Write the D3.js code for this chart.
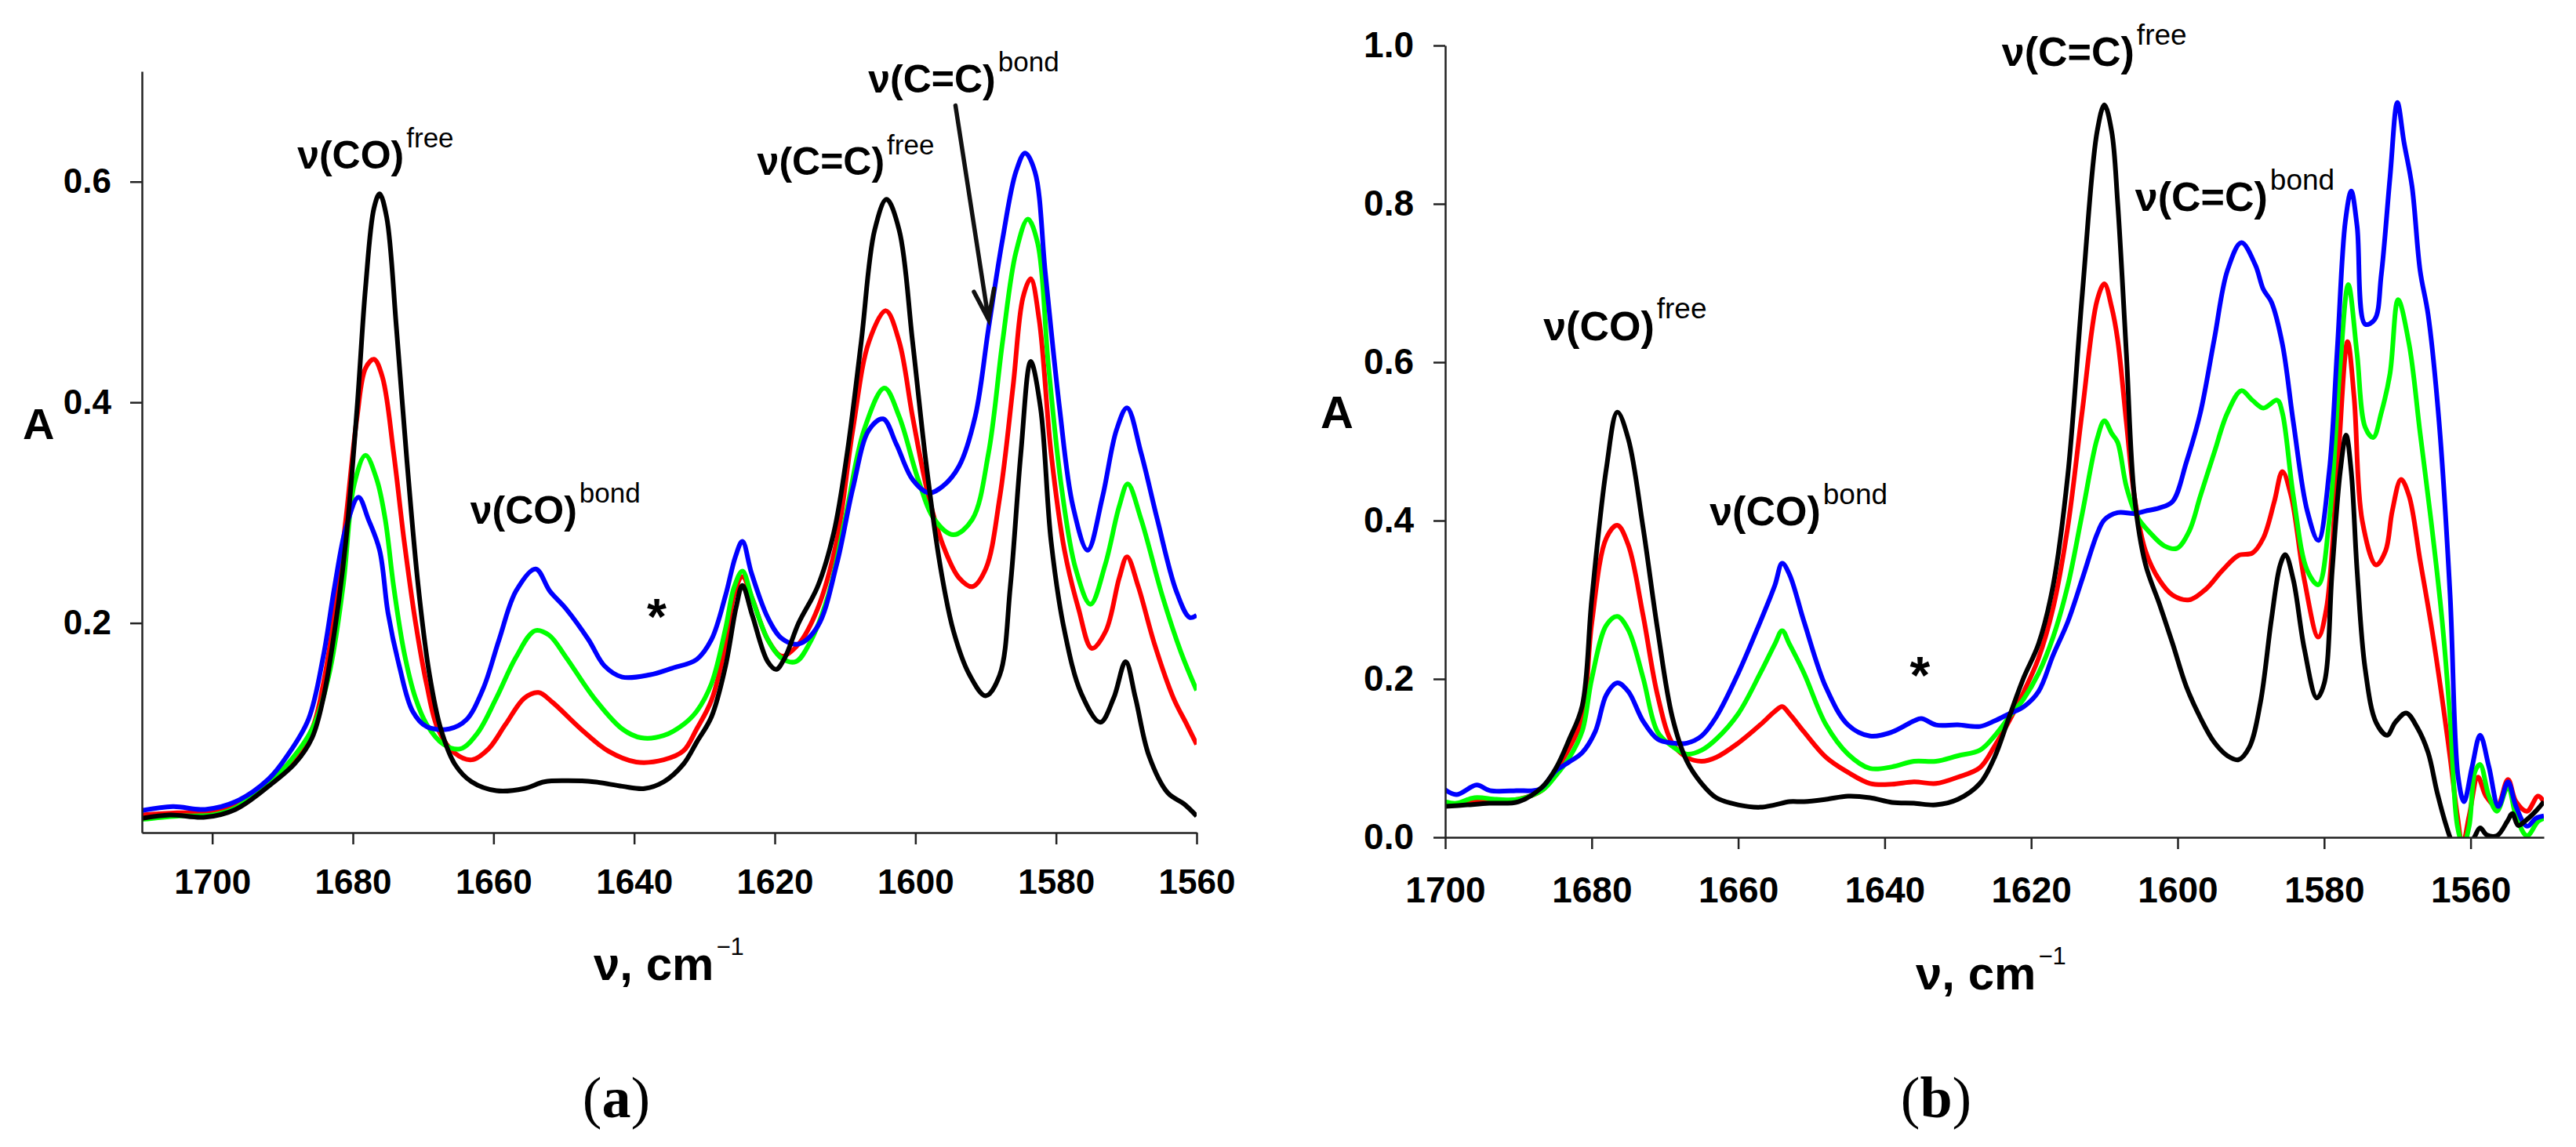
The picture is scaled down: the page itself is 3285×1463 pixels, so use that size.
<!DOCTYPE html>
<html>
<head>
<meta charset="utf-8">
<script src="https://cdn.jsdelivr.net/npm/d3@7"></script>
<style>
  body { margin: 0; background: #fff; }
</style>
</head>
<body>
<script>
var width = 3285, height = 1463;

// ---- panel (a): [wavenumber, absorbance] ----
var aBlack = [[1710,0.023],[1706,0.026],[1701,0.024],[1696.7,0.031],[1692,0.052],[1688.2,0.073],[1685.8,0.096],[1684.2,0.132],
  [1682.6,0.193],[1681,0.274],[1679.4,0.395],[1678.2,0.504],[1677,0.576],[1676.2,0.589],[1675.2,0.568],[1673.8,0.467],[1672.3,0.346],
  [1670.7,0.233],[1669.1,0.153],[1667.5,0.104],[1665.5,0.072],[1663.1,0.056],[1659.6,0.048],[1655.6,0.05],[1652.8,0.056],[1649.7,0.057],
  [1645.7,0.056],[1641.7,0.052],[1638.5,0.05],[1635.8,0.056],[1633,0.072],[1631.1,0.092],[1629,0.115],[1627,0.161],[1625.5,0.214],
  [1624.6,0.234],[1623.2,0.207],[1621,0.165],[1619.8,0.158],[1618.6,0.168],[1616.6,0.2],[1613.9,0.233],[1611.6,0.282],[1609.7,0.354],
  [1607.7,0.455],[1605.8,0.556],[1604.1,0.584],[1602.3,0.556],[1600.4,0.455],[1598.5,0.346],[1596.5,0.253],[1594.6,0.193],[1592.3,0.153],
  [1590,0.134],[1588,0.153],[1586.5,0.233],[1585,0.354],[1583.6,0.437],[1582.2,0.395],[1580.7,0.274],[1578.8,0.193],[1576.4,0.136],
  [1573.7,0.11],[1571.8,0.132],[1570.1,0.165],[1568.7,0.132],[1566.8,0.08],[1564.1,0.046],[1561.8,0.036],[1560,0.025]];
var aRed = [[1710,0.026],[1705,0.028],[1700,0.029],[1696.7,0.034],[1693.3,0.05],[1689.3,0.068],[1685.8,0.104],[1684.2,0.145],
  [1682.6,0.209],[1681,0.294],[1679.4,0.387],[1678.2,0.431],[1677,0.439],[1675.8,0.423],[1674.2,0.354],[1672.7,0.274],[1671.1,0.201],
  [1669.5,0.144],[1667.9,0.104],[1665.5,0.082],[1663.1,0.076],[1660.7,0.086],[1658.3,0.108],[1655.6,0.132],[1653.6,0.137],[1651.6,0.128],
  [1647.6,0.104],[1643.7,0.084],[1639.7,0.074],[1635.8,0.076],[1633,0.084],[1631.1,0.104],[1629,0.13],[1627,0.18],[1625.8,0.225],
  [1624.6,0.242],[1623.2,0.222],[1621,0.185],[1619,0.17],[1616.6,0.181],[1613.9,0.213],[1611.2,0.274],[1608.9,0.375],[1606.6,0.455],
  [1604.2,0.483],[1602.3,0.455],[1600.4,0.387],[1598.1,0.314],[1595.8,0.266],[1593.8,0.241],[1591.9,0.233],[1590,0.249],[1588,0.314],
  [1586.1,0.415],[1584.7,0.495],[1583.6,0.512],[1582.4,0.475],[1580.7,0.354],[1578.8,0.266],[1576.8,0.213],[1574.9,0.177],[1572.9,0.193],
  [1571,0.241],[1569.9,0.26],[1568.3,0.233],[1566,0.181],[1563.3,0.132],[1561.4,0.108],[1560,0.09]];
var aGreen = [[1710,0.022],[1705,0.025],[1700,0.026],[1696.7,0.0325],[1692,0.055],[1689.3,0.072],[1685.8,0.104],[1683.4,0.153],
  [1681.4,0.233],[1679.8,0.326],[1678.2,0.352],[1676.6,0.33],[1675.4,0.294],[1674.2,0.233],[1672.7,0.173],[1671.1,0.132],[1669.5,0.108],
  [1667.1,0.09],[1664.7,0.086],[1662.3,0.1],[1659.6,0.132],[1656.8,0.169],[1654.1,0.193],[1652.1,0.189],[1649.7,0.169],[1645.7,0.132],
  [1641.7,0.104],[1639,0.096],[1635.8,0.098],[1633,0.108],[1631.1,0.12],[1629,0.145],[1627,0.195],[1625.8,0.232],[1624.6,0.247],
  [1623.2,0.222],[1621,0.185],[1619,0.168],[1617,0.165],[1615.1,0.181],[1612.4,0.225],[1610,0.294],[1607.3,0.375],[1604.4,0.413],
  [1602.3,0.387],[1599.6,0.33],[1597.3,0.294],[1594.6,0.28],[1591.9,0.294],[1589.6,0.354],[1587.6,0.455],[1585.7,0.536],[1584,0.566],
  [1582.6,0.544],[1581.1,0.435],[1579.2,0.322],[1577.2,0.249],[1575.1,0.217],[1573,0.253],[1571,0.306],[1569.8,0.326],[1567.9,0.294],
  [1564.9,0.225],[1562.2,0.173],[1560,0.139]];
var aBlue = [[1710,0.030],[1705.6,0.0336],[1701,0.031],[1696.7,0.038],[1692,0.0585],[1689.3,0.08],[1686.3,0.113],[1684.2,0.17],
  [1682.6,0.233],[1681,0.286],[1679.2,0.314],[1677.8,0.294],[1676.2,0.266],[1675,0.209],[1673.4,0.161],[1671.5,0.12],[1669.5,0.106],
  [1666.3,0.104],[1663.9,0.112],[1661.5,0.14],[1659.2,0.185],[1656.8,0.229],[1654,0.249],[1652,0.229],[1649.7,0.213],[1646.5,0.185],
  [1644.2,0.161],[1641.7,0.151],[1637.8,0.153],[1634.6,0.159],[1631.1,0.167],[1629,0.185],[1627,0.225],[1625.6,0.26],[1624.6,0.274],
  [1623.3,0.245],[1621,0.205],[1619,0.186],[1616.6,0.181],[1613.9,0.197],[1611.2,0.253],[1608.9,0.322],[1606.6,0.375],[1604.6,0.385],
  [1602.7,0.362],[1600.4,0.33],[1598.1,0.318],[1596.1,0.324],[1593.8,0.342],[1591.5,0.387],[1589.6,0.467],[1587.6,0.548],[1585.7,0.609],
  [1584.4,0.626],[1583,0.609],[1581.5,0.516],[1579.5,0.395],[1577.6,0.306],[1575.5,0.266],[1573.4,0.314],[1571.4,0.375],[1569.9,0.395],
  [1567.9,0.354],[1565.6,0.294],[1562.9,0.229],[1561,0.205],[1560,0.207]];

// ---- panel (b) ----
var bBlack = [[1700,0.039],[1697,0.041],[1694,0.043],[1690,0.045],[1686.7,0.064],[1684.9,0.087],[1683.1,0.123],[1681.3,0.166],
  [1680,0.3],[1678,0.466],[1676.5,0.537],[1675,0.503],[1673,0.392],[1671,0.262],[1669,0.152],[1667,0.096],[1665,0.068],[1663,0.05],
  [1660,0.041],[1657,0.038],[1655,0.041],[1653,0.045],[1651,0.045],[1648,0.048],[1645,0.052],[1642,0.05],[1639,0.044],[1636,0.043],
  [1633,0.041],[1630,0.048],[1627,0.068],[1625,0.101],[1623,0.152],[1621,0.202],[1619,0.244],[1617,0.318],[1615,0.457],[1613,0.688],
  [1611,0.891],[1610,0.925],[1609,0.891],[1608.2,0.803],[1607,0.611],[1605.9,0.43],[1604.4,0.345],[1602.5,0.295],[1600.7,0.245],
  [1598.8,0.19],[1596.9,0.151],[1595,0.12],[1593.2,0.103],[1591.7,0.098],[1590.2,0.114],[1588.7,0.17],[1587.2,0.275],[1586,0.344],
  [1585.3,0.357],[1584.2,0.325],[1582.7,0.238],[1581,0.176],[1580,0.194],[1578.9,0.337],[1577.8,0.462],[1577,0.508],[1576.3,0.462],
  [1575.5,0.337],[1574.4,0.213],[1572.9,0.145],[1571.4,0.129],[1570.3,0.145],[1568.8,0.157],[1567.3,0.139],[1565.8,0.107],[1564.6,0.058],
  [1563.5,0.02],[1562.6,-0.005],[1561.7,-0.02],[1560.5,-0.015],[1559.5,0.0],[1558.7,0.012],[1557.8,0.003],[1556.4,0.002],[1555,0.02],
  [1554.3,0.03],[1553.5,0.015],[1552.5,0.021],[1551.1,0.033],[1550,0.045]];
var bRed = [[1700,0.04],[1697,0.044],[1693,0.046],[1690,0.048],[1686.7,0.06],[1684.9,0.084],[1683.1,0.112],[1681.3,0.15],[1680,0.27],
  [1678,0.378],[1676.5,0.394],[1675,0.369],[1673,0.281],[1671,0.179],[1669,0.119],[1667,0.101],[1665,0.096],[1663,0.101],[1660,0.119],
  [1657,0.142],[1655,0.159],[1654,0.165],[1653,0.156],[1651,0.133],[1648,0.101],[1645,0.082],[1642,0.068],[1639,0.067],[1636,0.07],
  [1633,0.068],[1630,0.076],[1627,0.088],[1625,0.115],[1623,0.147],[1621,0.184],[1619,0.226],[1617,0.29],[1615,0.392],[1613,0.54],
  [1611,0.678],[1610,0.699],[1609,0.669],[1608.2,0.629],[1607,0.524],[1605.9,0.43],[1604.4,0.362],[1602.5,0.325],[1600.7,0.306],
  [1598.4,0.3],[1596.2,0.313],[1593.9,0.337],[1591.7,0.356],[1589.8,0.359],[1588.3,0.378],[1586.8,0.424],[1585.7,0.462],[1584.5,0.431],
  [1582.7,0.325],[1580.8,0.253],[1579.7,0.288],[1578.2,0.462],[1576.8,0.626],[1575.9,0.555],[1574.8,0.4],[1572.9,0.344],[1571.6,0.362],
  [1570.7,0.412],[1569.5,0.452],[1568.4,0.431],[1566.9,0.35],[1565.4,0.269],[1563.9,0.176],[1562.8,0.101],[1561.8,0.027],[1561.1,-0.01],
  [1560.2,0.027],[1559,0.076],[1557.9,0.052],[1556.4,0.039],[1554.9,0.073],[1553.8,0.045],[1552.3,0.033],[1550.8,0.052],[1550,0.045]];
var bGreen = [[1700,0.045],[1698.5,0.043],[1696,0.05],[1693,0.048],[1690,0.048],[1686.7,0.06],[1684.9,0.078],[1683.1,0.1],[1681.3,0.134],
  [1680,0.2],[1678,0.268],[1676.5,0.279],[1675,0.262],[1673,0.202],[1671,0.133],[1669,0.115],[1667,0.105],[1665,0.11],[1663,0.124],
  [1660,0.156],[1657,0.207],[1655,0.244],[1654,0.261],[1653,0.244],[1651,0.207],[1648,0.142],[1645,0.105],[1642,0.087],[1639,0.089],
  [1636,0.096],[1633,0.096],[1630,0.103],[1627,0.11],[1625,0.128],[1623,0.152],[1621,0.175],[1619,0.207],[1617,0.253],[1615,0.318],
  [1613,0.41],[1611,0.503],[1610,0.526],[1609,0.51],[1608.2,0.499],[1607,0.443],[1605.6,0.406],[1603.7,0.384],[1601.8,0.368],
  [1600.1,0.365],[1598.4,0.387],[1596.9,0.431],[1595,0.486],[1593.2,0.536],[1591.3,0.564],[1589.8,0.552],[1588.3,0.542],[1586.4,0.552],
  [1585.7,0.536],[1584.2,0.431],[1582.3,0.337],[1580.8,0.319],[1579.3,0.4],[1577.8,0.598],[1576.7,0.698],[1575.5,0.61],[1574.4,0.518],
  [1573.3,0.505],[1572.2,0.536],[1571,0.586],[1569.9,0.679],[1568.4,0.623],[1566.9,0.511],[1565.4,0.4],[1563.9,0.275],[1562.8,0.151],
  [1561.8,0.014],[1561,-0.01],[1560.2,0.014],[1559.4,0.083],[1558.7,0.092],[1557.5,0.052],[1556.4,0.033],[1554.9,0.064],[1553.8,0.027],
  [1552.3,0.002],[1550.8,0.02],[1550,0.024]];
var bBlue = [[1700.3,0.062],[1698.5,0.054],[1695.7,0.066],[1693.9,0.059],[1690.3,0.059],[1687.1,0.061],[1684.9,0.084],[1683.1,0.095],
  [1681.3,0.107],[1679.5,0.134],[1678,0.18],[1676.5,0.195],[1675,0.184],[1673,0.147],[1671,0.124],[1669,0.119],[1667,0.119],[1665,0.128],
  [1663,0.152],[1660,0.207],[1657,0.272],[1655,0.318],[1654,0.346],[1653,0.332],[1651,0.272],[1648,0.189],[1645,0.142],[1642,0.128],
  [1639,0.133],[1636,0.147],[1635,0.15],[1633,0.142],[1630,0.142],[1627,0.14],[1625,0.147],[1623,0.156],[1621,0.165],[1619,0.184],
  [1617,0.23],[1615,0.272],[1613,0.327],[1611,0.383],[1610,0.401],[1608.2,0.41],[1605.9,0.409],[1604.4,0.412],[1602.5,0.416],
  [1600.7,0.424],[1598.8,0.474],[1596.9,0.536],[1595,0.629],[1593.2,0.716],[1591.3,0.751],[1589.4,0.723],[1588.3,0.692],[1587.2,0.676],
  [1585.7,0.623],[1584.2,0.524],[1582.3,0.412],[1580.8,0.375],[1579.3,0.462],[1578.2,0.617],[1577.1,0.778],[1576.3,0.816],[1575.5,0.772],
  [1574.4,0.648],[1573.1,0.654],[1572.2,0.71],[1571,0.834],[1570,0.928],[1569.1,0.878],[1568,0.822],[1566.9,0.716],[1565.8,0.66],
  [1564.3,0.524],[1562.8,0.306],[1561.7,0.076],[1560.9,0.045],[1559.8,0.089],[1558.7,0.129],[1557.5,0.089],[1556.2,0.039],[1554.9,0.07],
  [1553.8,0.039],[1552.3,0.014],[1551.1,0.024],[1550,0.027]];

var xTicks = [1700, 1680, 1660, 1640, 1620, 1600, 1580, 1560];
var aYTicks = [0.2, 0.4, 0.6];
var bYTicks = [0.0, 0.2, 0.4, 0.6, 0.8, 1.0];
var seriesColors = ["#ff0000", "#00ff00", "#0000ff", "#000000"];  // draw order: red, green, blue, black

// peak labels, placed in data units
var aLabels = [
  {nu: 1687.9, A: 0.612, main: "\u03bd(CO)", sup: "free"},
  {nu: 1663.3, A: 0.290, main: "\u03bd(CO)", sup: "bond"},
  {nu: 1622.5, A: 0.606, main: "\u03bd(C=C)", sup: "free"},
  {nu: 1606.7, A: 0.681, main: "\u03bd(C=C)", sup: "bond"}
];
var bLabels = [
  {nu: 1686.6, A: 0.628, main: "\u03bd(CO)", sup: "free"},
  {nu: 1663.9, A: 0.394, main: "\u03bd(CO)", sup: "bond"},
  {nu: 1624.0, A: 0.974, main: "\u03bd(C=C)", sup: "free"},
  {nu: 1605.8, A: 0.791, main: "\u03bd(C=C)", sup: "bond"}
];

var SANS = "'Liberation Sans', Arial, sans-serif";
var SERIF = "'Liberation Serif', 'Times New Roman', serif";

var svg = d3.select("body").append("svg")
    .attr("width", width)
    .attr("height", height)
    .style("font-family", SANS);

function panel(opt) {
  var x = d3.scaleLinear().domain(opt.xDomain).range(opt.xRange);
  var y = d3.scaleLinear().domain(opt.yDomain).range(opt.yRange);
  var g = svg.append("g");

  g.append("clipPath").attr("id", opt.id)
    .append("rect")
      .attr("x", opt.xRange[0]).attr("y", opt.yRange[1])
      .attr("width", opt.xRange[1] - opt.xRange[0])
      .attr("height", opt.yRange[0] - opt.yRange[1]);

  var line = d3.line()
      .x(function(d) { return x(d[0]); })
      .y(function(d) { return y(d[1]); })
      .curve(d3.curveCatmullRom.alpha(0.5));

  g.append("g").attr("clip-path", "url(#" + opt.id + ")")
    .selectAll("path")
    .data(opt.series)
    .enter().append("path")
      .attr("d", line)
      .attr("fill", "none")
      .attr("stroke", function(d, i) { return seriesColors[i]; })
      .attr("stroke-width", 6)
      .attr("stroke-linejoin", "round");

  var xAxis = g.append("g")
      .attr("transform", "translate(0," + opt.yRange[0] + ")")
      .call(d3.axisBottom(x).tickValues(xTicks).tickFormat(d3.format("d"))
        .tickSize(15).tickSizeOuter(0).tickPadding(opt.xPad));
  var yAxis = g.append("g")
      .attr("transform", "translate(" + opt.xRange[0] + ",0)")
      .call(d3.axisLeft(y).tickValues(opt.yTicks).tickFormat(d3.format(".1f"))
        .tickSize(15).tickSizeOuter(0).tickPadding(opt.yPad));

  [xAxis, yAxis].forEach(function(ax) {
    ax.attr("font-family", null).attr("font-size", null);
    ax.select(".domain").attr("stroke", "#222").attr("stroke-width", 2.5);
    ax.selectAll(".tick line").attr("stroke", "#222").attr("stroke-width", 2.5);
    ax.selectAll(".tick text")
      .style("font-family", SANS)
      .style("font-weight", "bold")
      .style("font-size", opt.tickFont + "px")
      .attr("fill", "#000");
  });

  opt.labels.forEach(function(l) {
    var t = g.append("text")
        .attr("x", x(l.nu)).attr("y", y(l.A))
        .style("font-weight", "bold")
        .style("font-size", opt.labelFont + "px")
        .text(l.main);
    t.append("tspan")
        .attr("dx", 3)
        .attr("dy", -opt.labelFont * 0.53)
        .style("font-size", opt.supFont + "px")
        .style("font-weight", "normal")
        .text(l.sup);
  });

  // asterisk
  g.append("text")
      .attr("x", x(opt.star[0])).attr("y", y(opt.star[1]))
      .attr("text-anchor", "middle")
      .style("font-weight", "bold").style("font-size", opt.starFont + "px")
      .text("*");

  // axis titles
  g.append("text")
      .attr("x", opt.aPos[0]).attr("y", opt.aPos[1])
      .style("font-weight", "bold").style("font-size", opt.aFont + "px")
      .text("A");
  var xt = g.append("text")
      .attr("x", opt.xTitle[0]).attr("y", opt.xTitle[1])
      .style("font-weight", "bold").style("font-size", "60px")
      .text("\u03bd, cm");
  xt.append("tspan").attr("dx", 3).attr("dy", -32)
      .style("font-size", "31px").style("font-weight", "normal")
      .text("\u22121");

  // panel letter
  var pl = g.append("text")
      .attr("x", opt.letter[0]).attr("y", opt.letter[1])
      .attr("text-anchor", "middle")
      .style("font-family", SERIF)
      .style("font-size", "74px");
  pl.append("tspan").text("(");
  pl.append("tspan").style("font-weight", "bold").text(opt.letter[2]);
  pl.append("tspan").text(")");

  return {x: x, y: y, g: g};
}

var pa = panel({
  id: "clipA",
  xDomain: [1710, 1560], xRange: [181, 1526],
  yDomain: [0.01, 0.70], yRange: [1062, 91],
  yTicks: aYTicks, xPad: 32, yPad: 24, tickFont: 44,
  series: [aRed, aGreen, aBlue, aBlack],
  labels: aLabels, labelFont: 50, supFont: 35,
  star: [1636.8, 0.19], starFont: 64,
  aPos: [29, 560], aFont: 56,
  xTitle: [757, 1250],
  letter: [786, 1425, "a"]
});

var pb = panel({
  id: "clipB",
  xDomain: [1700, 1550], xRange: [1843, 3244],
  yDomain: [0, 1], yRange: [1068, 58],
  yTicks: bYTicks, xPad: 35, yPad: 25, tickFont: 46,
  series: [bRed, bGreen, bBlue, bBlack],
  labels: bLabels, labelFont: 52, supFont: 37,
  star: [1635.2, 0.182], starFont: 66,
  aPos: [1684, 546], aFont: 58,
  xTitle: [2443, 1262],
  letter: [2469, 1425, "b"]
});

// arrow pointing at the bonded C=C band in panel (a)
var from = [pa.x(1594.3), pa.y(0.669)], tip = [pa.x(1589.6), pa.y(0.475)];
var ang = Math.atan2(from[1] - tip[1], from[0] - tip[0]), wing = 40, spread = 0.33;
var arrow = d3.path();
arrow.moveTo(from[0], from[1]);
arrow.lineTo(tip[0], tip[1]);
arrow.moveTo(tip[0] + wing * Math.cos(ang - spread), tip[1] + wing * Math.sin(ang - spread));
arrow.lineTo(tip[0], tip[1]);
arrow.lineTo(tip[0] + wing * Math.cos(ang + spread), tip[1] + wing * Math.sin(ang + spread));
pa.g.append("path")
    .attr("d", arrow.toString())
    .attr("fill", "none")
    .attr("stroke", "#111")
    .attr("stroke-width", 5.5)
    .attr("stroke-linecap", "round")
    .attr("stroke-linejoin", "miter");
</script>
</body>
</html>
